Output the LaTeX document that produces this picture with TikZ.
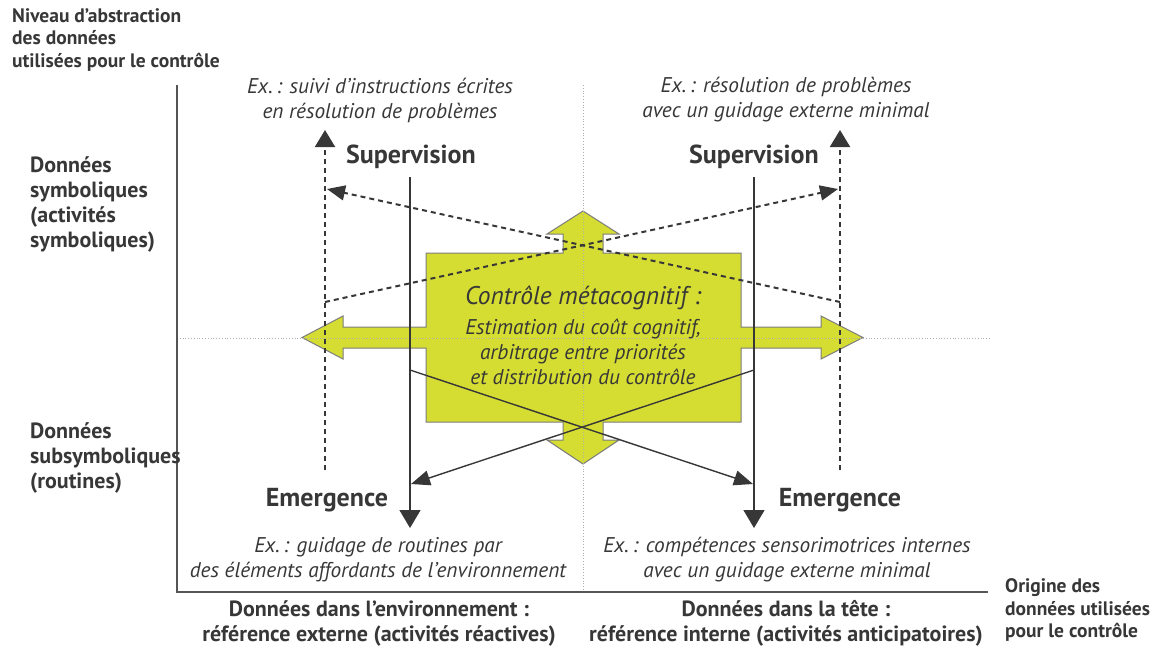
\documentclass[tikz,border=0pt]{standalone}
\usepackage{fontspec}
\setmainfont{PT Sans}
\usetikzlibrary{arrows.meta}
\definecolor{jaunevert}{RGB}{213,220,50}
\definecolor{grisfonce}{RGB}{55,55,55}
\definecolor{grisbord}{RGB}{125,125,125}
\definecolor{grisclair}{RGB}{175,175,175}

\begin{document}
\begin{tikzpicture}[
                x=1pt, y=-1pt,
                lab/.style={inner sep=0pt, text=grisfonce, font=\bfseries\fontsize{22}{25}\selectfont},
                petitlab/.style={inner sep=0pt, text=grisfonce, font=\bfseries\fontsize{19.5}{22.5}\selectfont},
                titre/.style={inner sep=0pt, text=grisfonce, font=\bfseries\fontsize{26}{28}\selectfont},
                exemple/.style={inner sep=0pt, align=center, text=grisfonce, font=\itshape\fontsize{21.3}{25}\selectfont},
                axe/.style={line width=1.4pt, color=grisfonce!85},
                repere/.style={line width=0.8pt, color=grisclair, dotted},
                fleche/.style={line width=1.4pt, color=grisfonce, -{Triangle[length=18pt, width=21pt]}},
                diag/.style={line width=1.4pt, color=grisfonce, -{Triangle[length=19pt, width=15pt]}},
                pointille/.style={line width=2pt, color=grisfonce, dash pattern=on 5pt off 4pt, -{Triangle[length=17pt, width=20pt]}},
                diagpt/.style={line width=2pt, color=grisfonce, dash pattern=on 5pt off 4pt, -{Triangle[length=18pt, width=15pt]}}
            ]
                \useasboundingbox (0,0) rectangle (1158,646);

                % Forme centrale
                \draw[fill=jaunevert, draw=grisbord, line width=1pt]
                    (426,253) -- (563,253) -- (563,234) -- (547,234) -- (583,211) -- (619,234) -- (603,234) -- (603,253)
                    -- (741,253) -- (741,327) -- (821,327) -- (821,316) -- (863,337.5) -- (821,359) -- (821,348) -- (741,348)
                    -- (741,422) -- (603,422) -- (603,440) -- (619,440) -- (583,464) -- (547,440) -- (563,440) -- (563,422)
                    -- (426,422) -- (426,348) -- (343,348) -- (343,359) -- (302,337.5) -- (343,316) -- (343,327) -- (426,327) -- cycle;

                % Axes
                \coordinate (orig) at (177,592);
                \coordinate (haut) at (177,85);
                \coordinate (droite) at (988,592);
                \coordinate (milhaut) at (583,85);
                \coordinate (milbas) at (583,590);
                \coordinate (milg) at (177,338);
                \coordinate (mild) at (990,338);
                \draw[repere] (milhaut) -- (milbas);
                \draw[repere] (milg) -- (mild);
                \draw[axe] (haut) -- (orig) -- (droite);

                % Textes des axes
                \node[petitlab, align=left, anchor=west] (niveau) at (12,40) {Niveau d’abstraction\\des données\\utilisées pour le contrôle};
                \node[lab, align=left, anchor=west] (symb) at (30,204) {Données\\symboliques\\(activités\\symboliques)};
                \node[lab, align=left, anchor=west] (subsymb) at (30,458) {Données\\subsymboliques\\(routines)};
                \node[petitlab, align=left, anchor=west] (origine) at (1005,610) {Origine des\\données utilisées\\pour le contrôle};
                \node[lab, align=center] (envir) at (379,623) {Données dans l’environnement :\\référence externe (activités réactives)};
                \node[lab, align=center] (tete) at (786,623) {Données dans la tête :\\référence interne (activités anticipatoires)};

                % Supervision / Emergence
                \node[titre] (supg) at (411,157) {Supervision};
                \node[titre] (supd) at (754,157) {Supervision};
                \node[titre] (emeg) at (327,500) {Emergence};
                \node[titre] (emed) at (840,500) {Emergence};

                % Exemples
                \node[exemple] (exhg) at (380,100) {Ex.\,: suivi d’instructions écrites\\en résolution de problèmes};
                \node[exemple] (exhd) at (786,100) {Ex.\,: résolution de problèmes\\avec un guidage externe minimal};
                \node[exemple] (exbg) at (378,560) {Ex.\,: guidage de routines par\\des éléments affordants de l’environnement};
                \node[exemple] (exbd) at (787,560) {Ex.\,: compétences sensorimotrices internes\\avec un guidage externe minimal};

                % Contrôle métacognitif
                \node[inner sep=0pt, text=grisfonce, font=\itshape\fontsize{25.5}{28}\selectfont] (ctrl) at (583,298) {Contrôle métacognitif :};
                \node[exemple] (ctrltxt) at (583,352) {Estimation du coût cognitif,\\arbitrage entre priorités\\et distribution du contrôle};

                % Flèches
                \coordinate (vg1) at (410,177);
                \coordinate (vg2) at (410,528);
                \coordinate (vd1) at (754,177);
                \coordinate (vd2) at (754,528);
                \coordinate (cg) at (410,370);
                \coordinate (cd) at (754,370);
                \coordinate (cgb) at (411,484);
                \coordinate (cdb) at (753,484);
                \draw[fleche] (vg1) -- (vg2);
                \draw[fleche] (vd1) -- (vd2);
                \draw[diag] (cg) -- (cdb);
                \draw[diag] (cd) -- (cgb);

                \coordinate (pg1) at (325,470);
                \coordinate (pg2) at (325,130);
                \coordinate (pd1) at (840,470);
                \coordinate (pd2) at (840,130);
                \coordinate (dg) at (325,302);
                \coordinate (dd) at (840,302);
                \coordinate (dgh) at (327,189);
                \coordinate (ddh) at (838,189);
                \draw[pointille] (pg1) -- (pg2);
                \draw[pointille] (pd1) -- (pd2);
                \draw[diagpt] (dg) -- (ddh);
                \draw[diagpt] (dd) -- (dgh);
            \end{tikzpicture}
\end{document}
